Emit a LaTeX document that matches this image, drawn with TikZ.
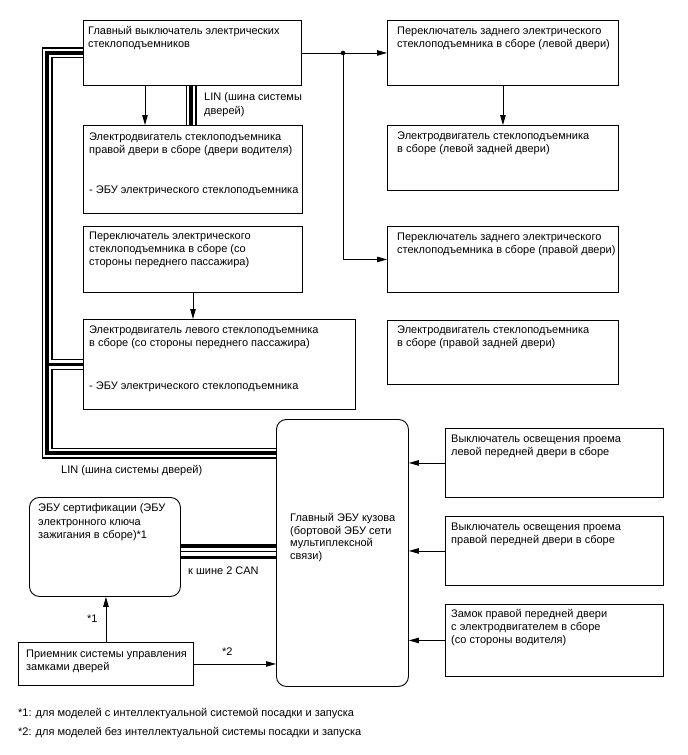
\documentclass[tikz,border=0pt]{standalone}
\usepackage{fontspec}
\setmainfont{Liberation Sans}
\usetikzlibrary{arrows.meta,calc}
\begin{document}
\begin{tikzpicture}[x=1pt,y=-1pt,
 box/.style={draw, line width=0.9pt, anchor=north west, inner sep=0pt},
 rbox/.style={box, rounded corners=10pt},
 txt/.style={anchor=north west, inner sep=0pt, align=left, font=\fontsize{11}{13}\selectfont},
 arr/.style={line width=0.8pt, -{Triangle[length=10pt,width=5.5pt]}},
 busA/.style={line width=11pt, line join=miter},
 busB/.style={white, line width=8.6pt, line join=miter},
 busC/.style={line width=3.4pt, line join=miter},
]
\useasboundingbox (0,0) rectangle (688,755);
% boxes
\node[box, minimum width=218pt, minimum height=65pt] (ms) at (83,20) {};
\node[box, minimum width=219pt, minimum height=88pt] (dm) at (83,125) {};
\node[box, minimum width=219pt, minimum height=66pt] (ps) at (83,226) {};
\node[box, minimum width=272pt, minimum height=90pt] (pm) at (83,319) {};
\node[box, minimum width=231pt, minimum height=65pt] (rls) at (387,20) {};
\node[box, minimum width=231pt, minimum height=65pt] (rlm) at (387,125) {};
\node[box, minimum width=231pt, minimum height=66pt] (rrs) at (387,226) {};
\node[box, minimum width=231pt, minimum height=64pt] (rrm) at (387,320) {};
\node[rbox, minimum width=132pt, minimum height=267pt] (ecu) at (276,419) {};
\node[box, minimum width=218pt, minimum height=69pt] (ld) at (445,428) {};
\node[box, minimum width=218pt, minimum height=69pt] (rd) at (445,516) {};
\node[box, minimum width=218pt, minimum height=72pt] (lock) at (445,604) {};
\node[rbox, minimum width=151pt, minimum height=99pt] (cert) at (29,497) {};
\node[box, minimum width=175pt, minimum height=43pt] (rcv) at (18,642) {};
% texts
\node[txt] (tms) at (88,25) {\rule{0pt}{9.5pt}Главный выключатель электрических\\стеклоподъемников};
\node[txt] (tdm) at (89,130.5) {\rule{0pt}{9.5pt}Электродвигатель стеклоподъемника\\правой двери в сборе (двери водителя)};
\node[txt] (tdm2) at (89,184) {\rule{0pt}{9.5pt}- ЭБУ электрического стеклоподъемника};
\node[txt] (tps) at (89,230) {\rule{0pt}{9.5pt}Переключатель электрического\\стеклоподъемника в сборе (со\\стороны переднего пассажира)};
\node[txt] (tpm) at (89,324) {\rule{0pt}{9.5pt}Электродвигатель левого стеклоподъемника\\в сборе (со стороны переднего пассажира)};
\node[txt] (tpm2) at (89,379.5) {\rule{0pt}{9.5pt}- ЭБУ электрического стеклоподъемника};
\node[txt] (trls) at (397,25) {\rule{0pt}{9.5pt}Переключатель заднего электрического\\стеклоподъемника в сборе (левой двери)};
\node[txt] (trlm) at (397,130) {\rule{0pt}{9.5pt}Электродвигатель стеклоподъемника\\в сборе (левой задней двери)};
\node[txt] (trrs) at (397,230.5) {\rule{0pt}{9.5pt}Переключатель заднего электрического\\стеклоподъемника в сборе (правой двери)};
\node[txt] (trrm) at (397,324) {\rule{0pt}{9.5pt}Электродвигатель стеклоподъемника\\в сборе (правой задней двери)};
\node[txt] (tld) at (451,432.5) {\rule{0pt}{9.5pt}Выключатель освещения проема\\левой передней двери в сборе};
\node[txt] (trd) at (451,520.5) {\rule{0pt}{9.5pt}Выключатель освещения проема\\правой передней двери в сборе};
\node[txt] (tlock) at (451,607.5) {\rule{0pt}{9.5pt}Замок правой передней двери\\с электродвигателем в сборе\\(со стороны водителя)};
\node[txt, font=\fontsize{11}{12.5}\selectfont] (tecu) at (290,512) {\rule{0pt}{9.5pt}Главный ЭБУ кузова\\(бортовой ЭБУ сети\\мультиплексной\\связи)};
\node[txt, font=\fontsize{11}{13.5}\selectfont] (tcert) at (38,502) {\rule{0pt}{9.5pt}ЭБУ сертификации (ЭБУ\\электронного ключа\\зажигания в сборе)*1};
\node[txt] (trcv) at (26,648) {\rule{0pt}{9.5pt}Приемник системы управления\\замками дверей};
\node[txt, font=\fontsize{11}{14.5}\selectfont] (tlin1) at (204,90.5) {\rule{0pt}{9.5pt}LIN (шина системы\\дверей)};
\node[txt] (tlin2) at (61,464) {\rule{0pt}{9.5pt}LIN (шина системы дверей)};
\node[txt] (tcan) at (188,565) {\rule{0pt}{9.5pt}к шине 2 CAN};
\node[txt] (ts1) at (87,612.5) {\rule{0pt}{9.5pt}*1};
\node[txt] (ts2) at (222,646) {\rule{0pt}{9.5pt}*2};
\node[txt] (fn1) at (18,706.5) {\rule{0pt}{9.5pt}*1: для моделей с интеллектуальной системой посадки и запуска};
\node[txt] (fn2) at (18,725.5) {\rule{0pt}{9.5pt}*2: для моделей без интеллектуальной системы посадки и запуска};
% LIN bus
\coordinate (lx) at (47,0);
\coordinate (by) at (0,453);
\foreach \s in {busA,busB,busC}{
  \draw[\s] (ms.west) -- (ms.west -| lx) -- (lx |- by) -- (ecu.west |- by);
  \draw[\s] (lx |- pm.west) -- (pm.west);
  \draw[\s] ([xshift=108pt]ms.south west) -- ([xshift=108pt]dm.north west);
}
% CAN bus
\coordinate (cy) at (0,551.5);
\draw[line width=15pt] (cert.east |- cy) -- (ecu.west |- cy);
\draw[white, line width=8pt] (cert.east |- cy) -- (ecu.west |- cy);
\draw[line width=0.8pt] (cert.east |- cy) -- (ecu.west |- cy);
% arrows
\coordinate (dot) at (343,0);
\draw[arr] ([xshift=62pt]ms.south west) -- ([xshift=62pt]dm.north west);
\draw[arr] ([xshift=110pt]ps.south west) -- ([xshift=110pt]pm.north west);
\draw[arr] (ms.east) -- (rls.west);
\draw[arr] (ms.east -| dot) |- (rrs.west);
\fill (ms.east -| dot) circle (2.3pt);
\draw[arr] (rls.south) -- (rlm.north);
\draw[arr] (ld.west) -- (ld.west -| ecu.east);
\draw[arr] (rd.west) -- (rd.west -| ecu.east);
\draw[arr] (lock.west) -- (lock.west -| ecu.east);
\draw[arr] (rcv.north) -- (rcv.north |- cert.south);
\draw[arr] (rcv.east) -- (rcv.east -| ecu.west);
\end{tikzpicture}
\end{document}
